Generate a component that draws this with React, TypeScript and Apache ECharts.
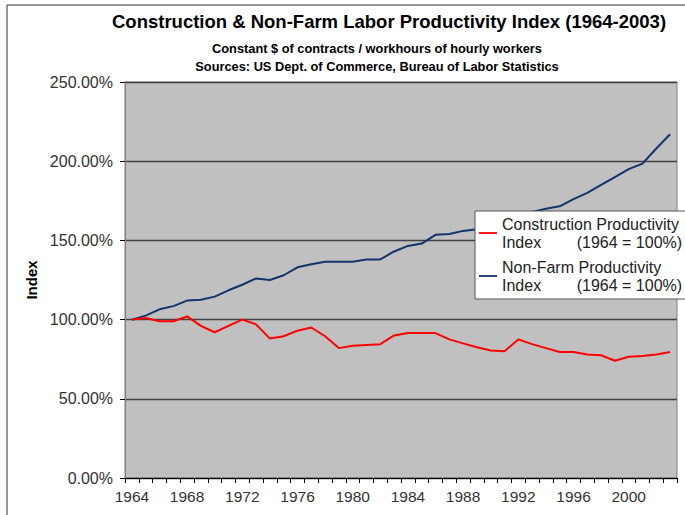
import React, { useEffect, useRef } from "react";
import * as echarts from "echarts";

const years: string[] = [
  "1964","1965","1966","1967","1968","1969","1970","1971","1972","1973",
  "1974","1975","1976","1977","1978","1979","1980","1981","1982","1983",
  "1984","1985","1986","1987","1988","1989","1990","1991","1992","1993",
  "1994","1995","1996","1997","1998","1999","2000","2001","2002","2003",
];

const constructionIndex: number[] = [
  100, 101, 99, 99, 102, 96, 92, 96, 100, 97,
  88, 89.5, 93, 95, 89.5, 82, 83.5, 84, 84.5, 90,
  91.5, 91.5, 91.5, 87.5, 85, 82.5, 80.5, 80, 87.5, 84.5,
  82, 79.5, 79.5, 78, 77.5, 74, 76.5, 77, 78, 79.5,
];

const nonFarmIndex: number[] = [
  100, 102.5, 106.5, 108.5, 112, 112.5, 114.5, 118.5, 122, 126,
  125, 128, 133, 135, 136.5, 136.5, 136.5, 138, 138, 143,
  146.5, 148, 153.5, 154, 156, 157, 160, 162, 166, 168,
  170, 171.5, 176, 180, 185, 190, 195, 198.5, 208, 217,
];

const seriesNames: string[] = [
  "Construction Productivity Index (1964 = 100%)",
  "Non-Farm Productivity Index (1964 = 100%)",
];

const legendLines: Record<string, string> = {
  "Construction Productivity Index (1964 = 100%)": "Construction Productivity\nIndex        (1964 = 100%)",
  "Non-Farm Productivity Index (1964 = 100%)": "Non-Farm Productivity\nIndex        (1964 = 100%)",
};

const titleText = "Construction & Non-Farm Labor Productivity Index (1964-2003)";
const subtitleText = "Constant $ of contracts / workhours of hourly workers\nSources: US Dept. of Commerce, Bureau of Labor Statistics";

export default function App() {
  const ref = useRef<HTMLDivElement>(null);
  useEffect(() => {
    document.body.style.margin = "0";
    if (!ref.current) return;
    const chart = echarts.init(ref.current, null, { renderer: "svg" });
    const font = "Arial, 'Liberation Sans', sans-serif";
    chart.setOption({
      animation: false,
      backgroundColor: "#ffffff",
      textStyle: { fontFamily: font },
      title: [
        {
          text: titleText,
          left: 384,
          top: 7,
          textAlign: "center",
          textStyle: { fontSize: 18.5, fontWeight: "bold", color: "#000", fontFamily: font },
        },
        {
          text: subtitleText,
          left: 372,
          top: 34,
          textAlign: "center",
          textStyle: { fontSize: 12.8, fontWeight: "bold", color: "#000", lineHeight: 18, fontFamily: font },
        },
      ],
      graphic: [
        {
          type: "rect",
          shape: { x: 7, y: 5, width: 700, height: 560 },
          style: { fill: "none", stroke: "#333", lineWidth: 1 },
          silent: true,
        },
      ],
      legend: {
        data: seriesNames,
        orient: "vertical",
        left: 475,
        top: 211,
        backgroundColor: "#ffffff",
        borderColor: "#555",
        borderWidth: 1,
        borderRadius: 0,
        padding: [4, 6, 5, 4],
        itemGap: 7,
        itemWidth: 18,
        itemHeight: 10,
        itemTextGap: 4,
        icon: "path://M0,4 L20,4 L20,6 L0,6 Z",
        formatter: (n: string) => legendLines[n] || n,
        textStyle: { fontSize: 16, color: "#222", lineHeight: 18, fontFamily: font },
      },
      grid: {
        left: 125,
        top: 82,
        width: 552,
        height: 396,
        show: true,
        backgroundColor: "#c0c0c0",
        borderColor: "#808080",
        borderWidth: 1,
      },
      xAxis: {
        type: "category",
        data: years,
        boundaryGap: true,
        axisLine: { show: true, lineStyle: { color: "#000", width: 1 } },
        axisTick: { show: true, interval: 0, length: 5, inside: false, lineStyle: { color: "#000" } },
        axisLabel: { interval: 3, fontSize: 15.5, color: "#333", margin: 10, fontFamily: font },
        splitLine: { show: false },
      },
      yAxis: {
        type: "value",
        min: 0,
        max: 250,
        interval: 50,
        name: "Index",
        nameLocation: "middle",
        nameRotate: 90,
        nameGap: 86,
        nameTextStyle: { fontSize: 15, fontWeight: "bold", color: "#000", fontFamily: font },
        axisLine: { show: true, lineStyle: { color: "#808080", width: 1 } },
        axisTick: { show: true, length: 5, lineStyle: { color: "#000" } },
        axisLabel: {
          fontSize: 16,
          color: "#333",
          margin: 12,
          fontFamily: font,
          formatter: (v: number) => v.toFixed(2) + "%",
        },
        splitLine: { show: true, lineStyle: { color: "#404040", width: 1.3 } },
      },
      series: [
        {
          name: seriesNames[0],
          type: "line",
          data: constructionIndex,
          symbol: "none",
          lineStyle: { color: "#ff0000", width: 2 },
          itemStyle: { color: "#ff0000" },
          z: 3,
        },
        {
          name: seriesNames[1],
          type: "line",
          data: nonFarmIndex,
          symbol: "none",
          lineStyle: { color: "#12336b", width: 2 },
          itemStyle: { color: "#12336b" },
          z: 2,
        },
      ],
    });
    return () => chart.dispose();
  }, []);
  return <div ref={ref} style={{ width: 685, height: 515 }} />;
}
